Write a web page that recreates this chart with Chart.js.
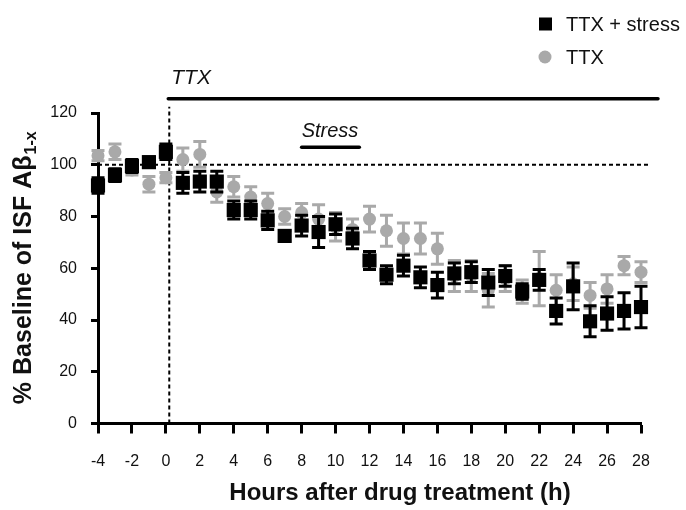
<!DOCTYPE html>
<html>
<head>
<meta charset="utf-8">
<script src="https://cdn.jsdelivr.net/npm/chart.js@4.4.1/dist/chart.umd.min.js"></script>
<style>
  html, body { margin: 0; padding: 0; background: #fff; }
  #wrap { width: 686px; height: 510px; }
</style>
</head>
<body>
<div id="wrap"><canvas id="isf-chart" width="686" height="510"></canvas></div>
<script>
// Hours relative to drug treatment
const hours = [-4, -3, -2, -1, 0, 1, 2, 3, 4, 5, 6, 7, 8, 9, 10, 11, 12,
               13, 14, 15, 16, 17, 18, 19, 20, 21, 22, 23, 24, 25, 26, 27, 28];

// TTX + stress group (% of baseline, mean and SEM)
const stressMean = [92, 96, 99.5, 101, 105, 93, 93.5, 93.5, 82.5, 82.5, 78.5, 72.5, 76.5, 74, 77, 71.5, 63,
                    57.5, 61, 56.5, 53.5, 58, 58.5, 54.5, 57, 51, 55.5, 43.5, 53, 39.5, 42.5, 43.5, 45];
const stressSem = [3, 2.5, 2.5, 2, 3, 4, 4, 4, 3.5, 3.5, 3.5, 2, 4, 6, 4, 4, 3.5,
                   3.5, 4, 4, 5, 4, 4, 5, 4, 3, 4, 5, 9, 6, 6.5, 7, 8];

// TTX only group
const ttxMean = [103.5, 105, 98, 92.5, 95, 102, 104, 89.5, 91.5, 87.5, 85, 80, 81.5, 79, 76, 75, 79,
                 74.5, 71.5, 71.5, 67.5, 57, 57, 51.5, 56, 51, 56, 51.5, 54, 49.5, 52, 61, 58.5];
const ttxSem = [2, 3, 2, 3, 2, 4.5, 5, 4, 4, 4, 4, 3, 3.5, 5.5, 5.5, 4, 5,
                6, 6, 6, 6, 6, 6, 6.5, 5, 4.5, 10.5, 6, 6.5, 5, 5.5, 3.5, 4];

const seriesLabels = ['TTX + stress', 'TTX'];
const seriesColors = ['#000000', '#a9a9a9'];

// Treatment windows (hours) and where their bars sit (% scale)
const ttxStart = 0.2;
const ttxEnd = 29;
const ttxBarLevel = 125.5;
const stressStart = 8;
const stressEnd = 11.4;
const stressBarLevel = 106.8;
const baselineLevel = 100;
const baselineEnd = 28.55;

const FONT = "'Liberation Sans', Arial, sans-serif";

function toPoints(values) {
    return hours.map(function(h, i) { return { x: h, y: values[i] }; });
}

const semByDataset = [stressSem, ttxSem];

// Draws the dashed guides, treatment bars, error bars, legend and axis titles
const figureExtras = {
    id: 'figureExtras',
    beforeDatasetsDraw(chart) {
        const ctx = chart.ctx;
        const xs = chart.scales.x;
        const ys = chart.scales.y;
        ctx.save();
        ctx.strokeStyle = '#000';
        ctx.lineWidth = 2;
        ctx.setLineDash([4, 3]);
        // baseline at 100 %
        ctx.beginPath();
        ctx.moveTo(xs.left, ys.getPixelForValue(baselineLevel));
        ctx.lineTo(xs.getPixelForValue(baselineEnd), ys.getPixelForValue(baselineLevel));
        ctx.stroke();
        // drug onset
        ctx.beginPath();
        ctx.moveTo(xs.getPixelForValue(ttxStart), ys.getPixelForValue(0));
        ctx.lineTo(xs.getPixelForValue(ttxStart), ys.getPixelForValue(ttxBarLevel) + 8);
        ctx.stroke();
        ctx.setLineDash([]);

        // TTX bar
        ctx.lineWidth = 3.5;
        ctx.lineCap = 'round';
        ctx.beginPath();
        ctx.moveTo(xs.getPixelForValue(ttxStart) - 1, ys.getPixelForValue(ttxBarLevel));
        ctx.lineTo(xs.getPixelForValue(ttxEnd), ys.getPixelForValue(ttxBarLevel));
        ctx.stroke();
        // Stress bar
        ctx.beginPath();
        ctx.moveTo(xs.getPixelForValue(stressStart), ys.getPixelForValue(stressBarLevel));
        ctx.lineTo(xs.getPixelForValue(stressEnd), ys.getPixelForValue(stressBarLevel));
        ctx.stroke();

        ctx.fillStyle = '#111';
        ctx.textAlign = 'left';
        ctx.textBaseline = 'alphabetic';
        ctx.font = 'italic 21px ' + FONT;
        ctx.fillText('TTX', xs.getPixelForValue(ttxStart) + 2, ys.getPixelForValue(ttxBarLevel) - 15);
        ctx.font = 'italic 20px ' + FONT;
        ctx.fillText('Stress', xs.getPixelForValue(stressStart), ys.getPixelForValue(stressBarLevel) - 10);
        ctx.restore();
    },
    beforeDatasetDraw(chart, args) {
        const ctx = chart.ctx;
        const xs = chart.scales.x;
        const ys = chart.scales.y;
        const ds = chart.data.datasets[args.index];
        const sem = semByDataset[args.index];
        ctx.save();
        ctx.strokeStyle = ds.borderColor;
        ctx.lineWidth = 3;
        ds.data.forEach(function(p, i) {
            const px = xs.getPixelForValue(p.x);
            const top = ys.getPixelForValue(p.y + sem[i]);
            const bottom = ys.getPixelForValue(p.y - sem[i]);
            ctx.beginPath();
            ctx.moveTo(px, top);
            ctx.lineTo(px, bottom);
            ctx.moveTo(px - 6.5, top);
            ctx.lineTo(px + 6.5, top);
            ctx.moveTo(px - 6.5, bottom);
            ctx.lineTo(px + 6.5, bottom);
            ctx.stroke();
        });
        ctx.restore();
    },
    afterDraw(chart) {
        const ctx = chart.ctx;
        const area = chart.chartArea;
        ctx.save();
        // legend
        ctx.font = '20px ' + FONT;
        ctx.textAlign = 'left';
        ctx.textBaseline = 'middle';
        chart.data.datasets.forEach(function(ds, i) {
            const cy = 24 + i * 33;
            ctx.fillStyle = ds.backgroundColor;
            if (ds.pointStyle === 'rect') {
                ctx.fillRect(539, cy - 6.5, 13, 13);
            } else {
                ctx.beginPath();
                ctx.arc(545, cy, 6.5, 0, Math.PI * 2);
                ctx.fill();
            }
            ctx.fillStyle = '#111';
            ctx.fillText(ds.label, 566, cy + 1);
        });

        // x title
        ctx.font = 'bold 24px ' + FONT;
        ctx.textAlign = 'center';
        ctx.textBaseline = 'alphabetic';
        ctx.fillStyle = '#111';
        ctx.fillText('Hours after drug treatment (h)', 400, 500);

        // y title with subscript
        const main = '% Baseline of ISF A\u03b2';
        const sub = '1-x';
        ctx.font = 'bold 25px ' + FONT;
        const wMain = ctx.measureText(main).width;
        ctx.font = 'bold 16px ' + FONT;
        const wSub = ctx.measureText(sub).width;
        const total = wMain + wSub;
        const cyMid = (area.top + area.bottom) / 2;
        ctx.translate(31, cyMid);
        ctx.rotate(-Math.PI / 2);
        ctx.textAlign = 'left';
        ctx.font = 'bold 25px ' + FONT;
        ctx.fillText(main, -total / 2, 0);
        ctx.font = 'bold 16px ' + FONT;
        ctx.fillText(sub, -total / 2 + wMain + 1, 5);
        ctx.restore();
    }
};

const chart = new Chart(document.getElementById('isf-chart'), {
    type: 'scatter',
    data: {
        datasets: [
            {
                label: seriesLabels[0],
                data: toPoints(stressMean),
                backgroundColor: seriesColors[0],
                borderColor: seriesColors[0],
                pointStyle: 'rect',
                pointRadius: 10,
                pointHoverRadius: 10,
                borderWidth: 0,
                clip: false
            },
            {
                label: seriesLabels[1],
                data: toPoints(ttxMean),
                backgroundColor: seriesColors[1],
                borderColor: seriesColors[1],
                pointStyle: 'circle',
                pointRadius: 6.5,
                pointHoverRadius: 6.5,
                borderWidth: 0,
                clip: false
            }
        ]
    },
    options: {
        responsive: false,
        animation: false,
        events: [],
        layout: { padding: { top: 113, right: 45, left: 0, bottom: 0 } },
        plugins: {
            legend: { display: false },
            tooltip: { enabled: false }
        },
        scales: {
            x: {
                type: 'linear',
                min: -4,
                max: 28,
                afterFit: function(scale) { scale.height = 86.5; },
                ticks: {
                    stepSize: 2,
                    color: '#111',
                    padding: 18,
                    font: { family: FONT, size: 16 }
                },
                grid: {
                    drawOnChartArea: false,
                    drawTicks: true,
                    tickLength: 10,
                    tickWidth: 3,
                    tickColor: '#000'
                },
                border: { display: true, color: '#000', width: 3 }
            },
            y: {
                min: 0,
                max: 120,
                afterFit: function(scale) { scale.width = 98; },
                ticks: {
                    stepSize: 20,
                    color: '#111',
                    padding: 14,
                    font: { family: FONT, size: 16 }
                },
                grid: {
                    drawOnChartArea: false,
                    drawTicks: true,
                    tickLength: 7,
                    tickWidth: 3,
                    tickColor: '#000'
                },
                border: { display: true, color: '#000', width: 3 }
            }
        }
    },
    plugins: [figureExtras]
});
</script>
</body>
</html>
